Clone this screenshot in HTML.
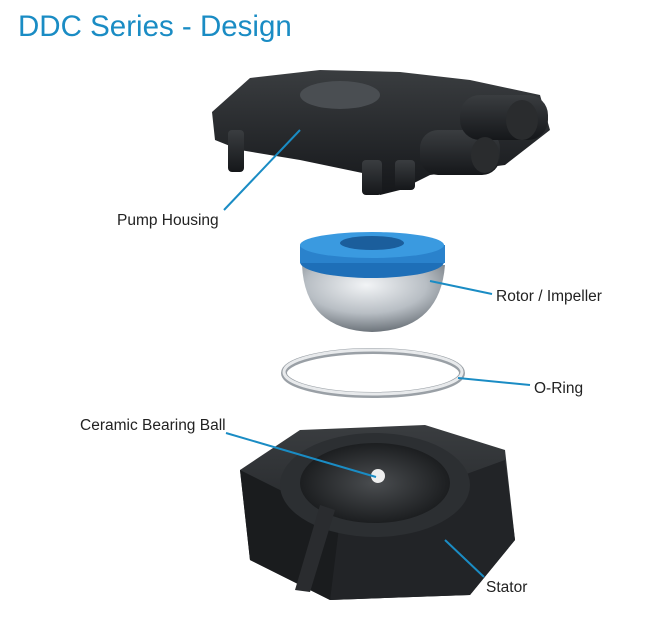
<!DOCTYPE html>
<html><head><meta charset="utf-8"><style>
html,body{margin:0;padding:0;background:#fff;}
svg{display:block;}
</style></head><body>
<svg width="671" height="618" viewBox="0 0 671 618" xmlns="http://www.w3.org/2000/svg">
<defs>
<linearGradient id="dark" x1="0" y1="0" x2="0" y2="1">
<stop offset="0" stop-color="#3a3d40"/><stop offset="1" stop-color="#15171a"/></linearGradient>
<radialGradient id="bowl" cx="0.45" cy="0.3" r="0.7">
<stop offset="0" stop-color="#f2f4f6"/><stop offset="0.6" stop-color="#b8bec4"/><stop offset="1" stop-color="#6d747b"/></radialGradient>
<radialGradient id="well" cx="0.5" cy="0.5" r="0.5">
<stop offset="0" stop-color="#4a4d50"/><stop offset="1" stop-color="#1c1e20"/></radialGradient>
</defs>
<text x="18" y="36" font-family="Liberation Sans, sans-serif" font-size="29.5" fill="#1a8cc4">DDC Series - Design</text>

<!-- Pump housing -->
<g fill="url(#dark)">
<path d="M212 112 L250 78 L320 70 L400 72 L470 80 L540 95 L550 130 L505 165 L430 175 L400 190 L380 195 L372 175 L300 160 L240 150 L215 140 Z"/>
<rect x="228" y="130" width="16" height="42" rx="4"/>
<rect x="362" y="160" width="20" height="35" rx="4"/>
<rect x="395" y="160" width="20" height="30" rx="4"/>
<rect x="420" y="130" width="80" height="45" rx="18"/>
<rect x="460" y="95" width="88" height="45" rx="20"/>
</g>
<ellipse cx="340" cy="95" rx="40" ry="14" fill="#4a4e52"/>
<ellipse cx="522" cy="120" rx="16" ry="20" fill="#2a2c2e"/>
<ellipse cx="485" cy="155" rx="14" ry="18" fill="#2a2c2e"/>

<!-- Rotor -->
<path d="M302 265 Q305 330 372 332 Q440 330 445 265 Z" fill="url(#bowl)"/>
<ellipse cx="372" cy="262" rx="72" ry="16" fill="#1e6fb8"/>
<rect x="300" y="245" width="145" height="18" fill="#2a82cc"/>
<ellipse cx="372" cy="245" rx="72" ry="13" fill="#3a9ae0"/>
<ellipse cx="372" cy="243" rx="32" ry="7" fill="#1b5e9c"/>

<!-- O-ring -->
<ellipse cx="373" cy="373" rx="89" ry="22" fill="none" stroke="#9aa0a6" stroke-width="6"/>
<ellipse cx="373" cy="372" rx="89" ry="22" fill="none" stroke="#e8eaec" stroke-width="3"/>

<!-- Stator -->
<path d="M240 470 L300 430 L425 425 L505 450 L515 540 L470 595 L330 600 L250 560 Z" fill="url(#dark)"/>
<path d="M240 470 L250 560 L330 600 L340 520 Z" fill="#1a1c1e"/>
<path d="M340 520 L330 600 L470 595 L515 540 L505 460 Z" fill="#222427"/>
<ellipse cx="375" cy="485" rx="95" ry="52" fill="#2c2f32"/>
<ellipse cx="375" cy="483" rx="75" ry="40" fill="url(#well)"/>
<circle cx="378" cy="476" r="7" fill="#eeeeee"/>
<path d="M295 590 L320 505 L335 510 L310 592 Z" fill="#2a2c2f"/>

<!-- leader lines -->
<g stroke="#1a8cc4" stroke-width="2">
<line x1="224" y1="210" x2="300" y2="130"/>
<line x1="430" y1="281" x2="492" y2="294"/>
<line x1="458" y1="378" x2="530" y2="385"/>
<line x1="226" y1="433" x2="376" y2="477"/>
<line x1="445" y1="540" x2="484" y2="577"/>
</g>
<g font-family="Liberation Sans, sans-serif" font-size="15.5" fill="#222">
<text x="117" y="225">Pump Housing</text>
<text x="496" y="301">Rotor / Impeller</text>
<text x="534" y="393">O-Ring</text>
<text x="80" y="430">Ceramic Bearing Ball</text>
<text x="486" y="592">Stator</text>
</g>
</svg>
</body></html>
